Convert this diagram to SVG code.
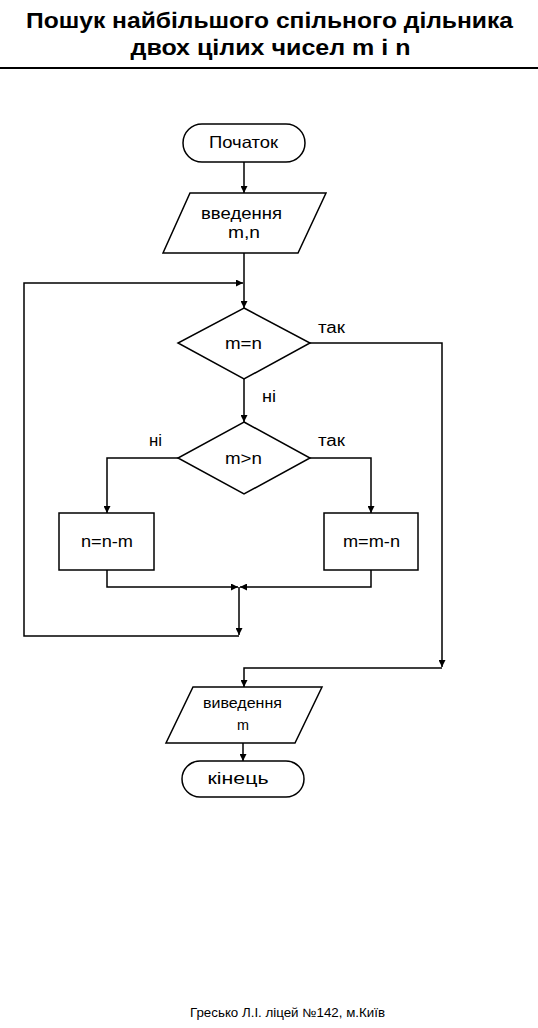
<svg xmlns="http://www.w3.org/2000/svg" width="538" height="1028" viewBox="0 0 538 1028">
<defs>
<marker id="ah" viewBox="0 0 10 10" refX="10" refY="5" markerWidth="7" markerHeight="7" markerUnits="userSpaceOnUse" orient="auto">
<path d="M0,0 L10,5 L0,10 z" fill="#000"/>
</marker>
</defs>
<style>
.sh{fill:#fff;stroke:#000;stroke-width:1.5}
.ln{fill:none;stroke:#000;stroke-width:1.5}
.t{font-family:"Liberation Sans",Arial,sans-serif;fill:#000;text-anchor:middle}
</style>
<rect width="538" height="1028" fill="#fff"/>
<g id="title">
<text class="t" x="269.5" y="28" font-size="21.5" font-weight="bold" textLength="487" lengthAdjust="spacingAndGlyphs">Пошук найбільшого спільного дільника</text>
<text class="t" x="270.5" y="55" font-size="21.5" font-weight="bold" textLength="280" lengthAdjust="spacingAndGlyphs">двох цілих чисел m і n</text>
<line x1="0" y1="68" x2="538" y2="68" stroke="#000" stroke-width="2"/>
</g>
<g id="connectors">
<line class="ln" x1="244" y1="162" x2="244" y2="193" marker-end="url(#ah)"/>
<line class="ln" x1="244" y1="253" x2="244" y2="308" marker-end="url(#ah)"/>
<polyline class="ln" points="239,636 24,636 24,283 243,283" marker-end="url(#ah)"/>
<polyline class="ln" points="310,343 442,343 442,667" marker-end="url(#ah)"/>
<polyline class="ln" points="442,668 244,668 244,687" marker-end="url(#ah)"/>
<line class="ln" x1="244" y1="379" x2="244" y2="422" marker-end="url(#ah)"/>
<polyline class="ln" points="178,458 107,458 107,513" marker-end="url(#ah)"/>
<polyline class="ln" points="310,458 371,458 371,513" marker-end="url(#ah)"/>
<polyline class="ln" points="107,570 107,587 238,587" marker-end="url(#ah)"/>
<polyline class="ln" points="371,570 371,587 240,587" marker-end="url(#ah)"/>
<line class="ln" x1="239" y1="587" x2="239" y2="635" marker-end="url(#ah)"/>
<line class="ln" x1="243" y1="743" x2="243" y2="761" marker-end="url(#ah)"/>
<text class="t" x="331.5" y="333" font-size="16" textLength="27" lengthAdjust="spacingAndGlyphs">так</text>
<text class="t" x="269" y="402" font-size="16" textLength="14" lengthAdjust="spacingAndGlyphs">ні</text>
<text class="t" x="155.5" y="446" font-size="16" textLength="13" lengthAdjust="spacingAndGlyphs">ні</text>
<text class="t" x="331.5" y="446" font-size="16" textLength="27" lengthAdjust="spacingAndGlyphs">так</text>
</g>
<g id="start">
<rect class="sh" x="183" y="124" width="122" height="38" rx="19" ry="19"/>
<text class="t" x="243.5" y="148" font-size="16.5" textLength="69" lengthAdjust="spacingAndGlyphs">Початок</text>
</g>
<g id="input">
<polygon class="sh" points="190,193 326,193 298,253 163,253"/>
<text class="t" x="241.5" y="219" font-size="16.5" textLength="81" lengthAdjust="spacingAndGlyphs">введення</text>
<text class="t" x="244" y="238" font-size="16.5" textLength="32" lengthAdjust="spacingAndGlyphs">m,n</text>
</g>
<g id="cond1">
<polygon class="sh" points="244,308 310,343 244,379 178,343"/>
<text class="t" x="243.5" y="349" font-size="16" textLength="37" lengthAdjust="spacingAndGlyphs">m=n</text>
</g>
<g id="cond2">
<polygon class="sh" points="244,422 310,458 244,494 178,458"/>
<text class="t" x="243.5" y="464" font-size="16" textLength="37" lengthAdjust="spacingAndGlyphs">m&gt;n</text>
</g>
<g id="left">
<rect class="sh" x="59" y="513" width="95" height="57"/>
<text class="t" x="107" y="547" font-size="16" textLength="52" lengthAdjust="spacingAndGlyphs">n=n-m</text>
</g>
<g id="right">
<rect class="sh" x="324" y="513" width="94" height="57"/>
<text class="t" x="371.5" y="547" font-size="16" textLength="57" lengthAdjust="spacingAndGlyphs">m=m-n</text>
</g>
<g id="output">
<polygon class="sh" points="193,687 322,687 295,743 166,743"/>
<text class="t" x="242.5" y="708" font-size="14.5" textLength="79" lengthAdjust="spacingAndGlyphs">виведення</text>
<text class="t" x="243" y="730" font-size="14.5" textLength="12" lengthAdjust="spacingAndGlyphs">m</text>
</g>
<g id="end">
<rect class="sh" x="182" y="761" width="122" height="36" rx="18" ry="18"/>
<text class="t" x="238" y="784" font-size="17" textLength="61" lengthAdjust="spacingAndGlyphs">кінець</text>
</g>
<text class="t" x="287.5" y="1017" font-size="12" textLength="195" lengthAdjust="spacingAndGlyphs">Гресько Л.І. ліцей №142, м.Київ</text>
</svg>
